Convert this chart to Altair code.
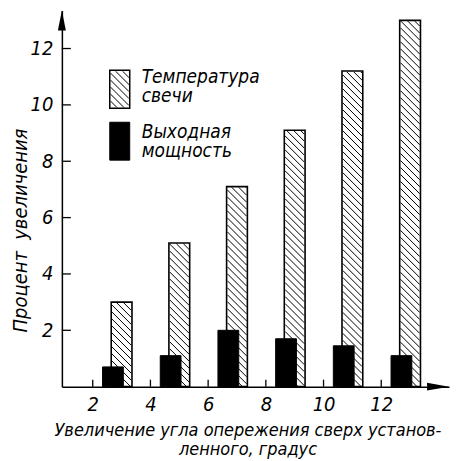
import altair as alt
import pandas as pd
import numpy as np

# ---- data ----
advance = [3, 5, 7, 9, 11, 13]                 # angle advance, degrees (bar positions)
temp_rise = [3.0, 5.1, 7.1, 9.1, 11.2, 13.0]     # spark plug temperature, % rise
power_rise = [0.7, 1.1, 2.0, 1.7, 1.45, 1.1]     # output power, % rise
x_ticks = [2, 4, 6, 8, 10, 12]
y_ticks = [2, 4, 6, 8, 10, 12]
legend_temp = ["Температура", "свечи"]
legend_power = ["Выходная", "мощность"]
x_title = ["Увеличение угла опережения сверх установ-", "ленного, градус"]
y_title = "Процент\u00a0\u00a0увеличения"

# ---- layout ----
W, H = 388, 377
XD = [0.93, 14.35]
YD = [0.0, 13.35]
SX = W / (XD[1] - XD[0])
SY = H / (YD[1] - YD[0])
HALF = 0.36      # half bar width (data units)
SHIFT = 0.3      # black bar shifted left of hatched bar
FONT = "DejaVu Sans Condensed"
STEP = 7.0


def hatch_px(L, R, T, B, step=STEP):
    segs = []
    c = np.ceil((T - R) / step) * step
    while c <= B - L:
        a = max(L, T - c)
        b = min(R, B - c)
        if b - a > 0.8:
            segs.append((a, a + c, b, b + c))
        c += step
    return segs


# bars
temp_df = pd.DataFrame({
    "x0": [a - HALF for a in advance],
    "x1": [a + HALF for a in advance],
    "v": temp_rise,
    "base": [0.0] * len(advance),
})
power_df = pd.DataFrame({
    "x0": [a - SHIFT - HALF for a in advance],
    "x1": [a - SHIFT + HALF for a in advance],
    "v": power_rise,
    "base": [0.0] * len(advance),
})

# hatch segments inside temperature bars (computed in pixel space, mapped back to data)
rows = []
for x0, x1, v in zip(temp_df.x0, temp_df.x1, temp_df.v):
    L = (x0 - XD[0]) * SX
    R = (x1 - XD[0]) * SX
    T = (YD[1] - v) * SY
    B = (YD[1] - 0) * SY
    for (pa, qa, pb, qb) in hatch_px(L + 0.8, R - 0.8, T + 0.8, B):
        rows.append({
            "xa": XD[0] + pa / SX, "ya": YD[1] - qa / SY,
            "xb": XD[0] + pb / SX, "yb": YD[1] - qb / SY,
        })
hatch_df = pd.DataFrame(rows)

xs = alt.Scale(domain=XD, nice=False, zero=False)
ys = alt.Scale(domain=YD, nice=False, zero=False)

x_axis = alt.Axis(values=x_ticks, ticks=False, grid=False, domainColor="black",
                  domainWidth=1.5, labelFont=FONT, labelFontSize=20,
                  labelFontStyle="italic", labelColor="black", labelPadding=8,
                  title=x_title, titleFont=FONT, titleFontSize=18,
                  titleFontStyle="italic", titleFontWeight="normal",
                  titleColor="black", titleX=186, titleY=49, titleAlign="center",
                  titleBaseline="alphabetic", titleLineHeight=19)
y_axis = alt.Axis(values=y_ticks, ticks=False, grid=False, domainColor="black",
                  domainWidth=1.5, labelFont=FONT, labelFontSize=20,
                  labelFontStyle="italic", labelColor="black", labelPadding=9,
                  labelBaseline="middle",
                  title=y_title, titleFont=FONT, titleFontSize=20,
                  titleFontStyle="italic", titleFontWeight="normal",
                  titleColor="black", titleX=-41, titleY=220, titleAngle=270,
                  titleAlign="center", titleBaseline="middle")

temp_bars = alt.Chart(temp_df).mark_rect(fill="white", stroke="black", strokeWidth=1.6).encode(
    x=alt.X("x0:Q", scale=xs, axis=x_axis),
    x2="x1:Q",
    y=alt.Y("v:Q", scale=ys, axis=y_axis),
    y2="base:Q",
)

hatch = alt.Chart(hatch_df).mark_rule(color="black", strokeWidth=1).encode(
    x=alt.X("xa:Q", scale=xs), x2="xb:Q",
    y=alt.Y("ya:Q", scale=ys), y2="yb:Q",
)

power_bars = alt.Chart(power_df).mark_rect(fill="black", stroke="black", strokeWidth=1).encode(
    x=alt.X("x0:Q", scale=xs), x2="x1:Q",
    y=alt.Y("v:Q", scale=ys), y2="base:Q",
)

# inward ticks
ytick_df = pd.DataFrame({"t": y_ticks})
xtick_df = pd.DataFrame({"t": x_ticks})
yticks = alt.Chart(ytick_df).mark_rule(color="black", strokeWidth=1.3).encode(
    y=alt.Y("t:Q", scale=ys), x=alt.value(0), x2=alt.value(9))
xticks = alt.Chart(xtick_df).mark_rule(color="black", strokeWidth=1.3).encode(
    x=alt.X("t:Q", scale=xs), y=alt.value(H - 7), y2=alt.value(H))

# arrows
arr_df = pd.DataFrame({"k": ["y", "x"]})
y_arrow = alt.Chart(arr_df.iloc[[0]]).mark_point(
    shape="M0,-1L0.4,1L-0.4,1Z", filled=True, color="black", opacity=1, size=400
).encode(x=alt.value(0), y=alt.value(10))
x_arrow = alt.Chart(arr_df.iloc[[1]]).mark_point(
    shape="M1,0L-1,-0.35L-1,0.35Z", filled=True, color="black", opacity=1, size=484
).encode(x=alt.value(W - 11), y=alt.value(H))

# legend (pixel layout)
sw_temp = dict(L=48, R=68, T=60, B=98)
sw_pow = dict(L=48, R=68, T=112, B=150)
sw_df = pd.DataFrame([
    {"l": sw_temp["L"], "r": sw_temp["R"], "t": sw_temp["T"], "b": sw_temp["B"]},
])
leg_temp_box = alt.Chart(sw_df).mark_rect(fill="white", stroke="black", strokeWidth=1.5).encode(
    x=alt.X("l:Q", scale=None), x2="r:Q", y=alt.Y("t:Q", scale=None), y2="b:Q")
leg_h = pd.DataFrame([{"a": a, "b": b, "c": c, "d": d}
                      for (a, b, c, d) in hatch_px(sw_temp["L"] + 0.8, sw_temp["R"] - 0.8,
                                                   sw_temp["T"] + 0.8, sw_temp["B"] - 0.8)])
leg_hatch = alt.Chart(leg_h).mark_rule(color="black", strokeWidth=1).encode(
    x=alt.X("a:Q", scale=None), x2="c:Q", y=alt.Y("b:Q", scale=None), y2="d:Q")
pw_df = pd.DataFrame([{"l": sw_pow["L"], "r": sw_pow["R"], "t": sw_pow["T"], "b": sw_pow["B"]}])
leg_pow_box = alt.Chart(pw_df).mark_rect(fill="black", stroke="black").encode(
    x=alt.X("l:Q", scale=None), x2="r:Q", y=alt.Y("t:Q", scale=None), y2="b:Q")

txt_df = pd.DataFrame({
    "s": legend_temp + legend_power,
    "px": [80, 80, 80, 80],
    "py": [73, 92, 128, 147],
})
leg_text = alt.Chart(txt_df).mark_text(
    align="left", baseline="alphabetic", font=FONT, fontSize=19, fontStyle="italic", color="black"
).encode(x=alt.X("px:Q", scale=None), y=alt.Y("py:Q", scale=None), text="s:N")

chart = alt.layer(
    temp_bars, hatch, power_bars, yticks, xticks, y_arrow, x_arrow,
    leg_temp_box, leg_hatch, leg_pow_box, leg_text,
).properties(
    width=W, height=H,
    autosize=alt.AutoSizeParams(type="none"),
    padding={"left": 54, "top": 2, "right": 10, "bottom": 72},
    background="white",
).configure_view(stroke=None)

chart.save("out.html", embed_options={"renderer": "svg", "actions": False})
